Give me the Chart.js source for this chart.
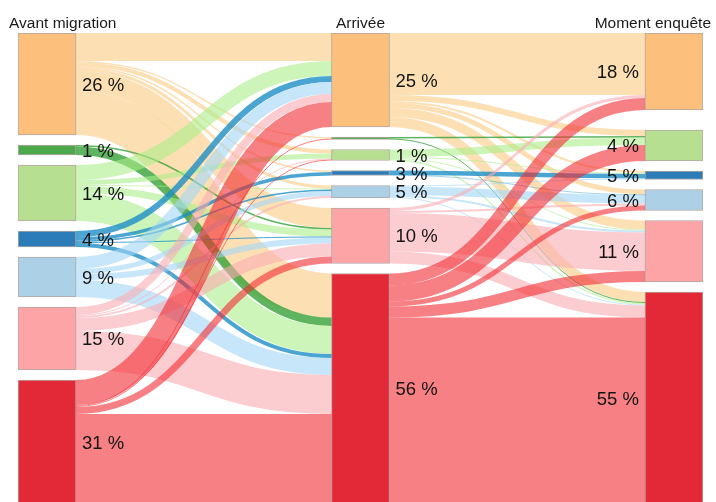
<!DOCTYPE html>
<html>
<head>
<meta charset="utf-8">
<script src="https://cdn.jsdelivr.net/npm/chart.js@4.4.1/dist/chart.umd.min.js"></script>
<style>
  html, body { margin: 0; padding: 0; background: #fff; }
  #wrap { width: 716px; height: 502px; }
</style>
</head>
<body>
<div id="wrap"><canvas id="sankey"></canvas></div>
<script>
// columns of the diagram
const stages = ['Avant migration', 'Arrivée', 'Moment enquête'];
// node groups, top to bottom in every column
const groups = ['orange', 'vert foncé', 'vert clair', 'bleu', 'bleu clair', 'rose', 'rouge'];

// percentage labels shown next to the nodes
const pctBefore = ['26 %', '1 %', '14 %', '4 %', '9 %', '15 %', '31 %'];
const pctArrival = ['25 %', '', '1 %', '3 %', '5 %', '10 %', '56 %'];
const pctSurvey = ['18 %', '', '4 %', '5 %', '6 %', '11 %', '55 %'];

// flows: rows = source group, columns = target group
const flowsBeforeToArrival = [
  [28, 1.5, 4, 1.5, 3, 20, 44],
  [0, 0, 0, 0, 0, 1.5, 8.5],
  [15, 0, 5, 0, 1, 7, 28],
  [6, 0, 0, 3.5, 1.5, 1, 4],
  [12, 0, 0, 0, 5, 6, 17],
  [8, 0, 1, 0, 2, 13, 39],
  [25, 1, 1, 0, 0, 7, 90]
];
const flowsArrivalToSurvey = [
  [62, 0, 6, 2, 5, 9, 10],
  [0, 0, 1.5, 0, 0, 0, 1],
  [0, 0, 7.5, 1, 0, 1, 1.5],
  [0, 0, 0, 4.5, 0.5, 0, 0],
  [0, 0, 0, 1, 8.5, 2, 1],
  [3, 0, 0, 0, 2, 38.5, 12],
  [12, 0, 16, 0, 5, 11, 186.5]
];

const nodeColors = ['#fcc07c', '#4ca94b', '#b7df92', '#2b7cb9', '#acd0e6', '#fca4a6', '#e32838'];
const linkColors = [
  'rgba(250,203,130,0.6)', 'rgba(55,161,55,0.8)', 'rgba(172,238,138,0.6)',
  'rgba(30,142,199,0.8)', 'rgba(163,213,247,0.6)', 'rgba(250,172,177,0.6)',
  'rgba(242,43,50,0.6)'
];

const GAP = 10;
const NODE_W = 58;
const PLOT_W = 716 - 18 - 13;

const sum = a => a.reduce((s, v) => s + v, 0);
const colSum = (m, j) => sum(m.map(r => r[j]));

const colVals = [
  groups.map((_, i) => sum(flowsBeforeToArrival[i])),
  groups.map((_, j) => Math.max(colSum(flowsBeforeToArrival, j), sum(flowsArrivalToSurvey[j]))),
  groups.map((_, j) => colSum(flowsArrivalToSurvey, j))
];
const colY0 = colVals.map(vals => {
  let acc = 0;
  return vals.map(v => { const y0 = acc; acc += v + GAP; return y0; });
});

const links = [];
[flowsBeforeToArrival, flowsArrivalToSurvey].forEach((m, s) => {
  const outOff = colY0[s].slice();
  const inOff = colY0[s + 1].slice();
  m.forEach((row, i) => row.forEach((v, j) => {
    if (!v) return;
    links.push({s, i, j, v, y0: outOff[i], y1: inOff[j]});
    outOff[i] += v;
    inOff[j] += v;
  }));
});

const datasets = groups.map((g, k) => ({
  label: g,
  data: colVals.map((vals, c) => vals[k] > 0 ? {x: c, y: [colY0[c][k], colY0[c][k] + vals[k]]} : null)
    .filter(Boolean),
  backgroundColor: nodeColors[k],
  borderColor: 'rgba(90,60,55,0.45)',
  borderWidth: 1,
  borderSkipped: false,
  barThickness: NODE_W,
  grouped: false
}));

const sankeyLinks = {
  id: 'sankeyLinks',
  beforeDatasetsDraw(chart) {
    const {ctx, scales: {x, y}} = chart;
    ctx.save();
    ctx.lineCap = 'butt';
    links.forEach(l => {
      const xa = x.getPixelForValue(l.s) + NODE_W / 2;
      const xb = x.getPixelForValue(l.s + 1) - NODE_W / 2;
      const xm = (xa + xb) / 2;
      const ya = y.getPixelForValue(l.y0 + l.v / 2);
      const yb = y.getPixelForValue(l.y1 + l.v / 2);
      const w = Math.abs(y.getPixelForValue(l.v) - y.getPixelForValue(0));
      ctx.beginPath();
      ctx.moveTo(xa, ya);
      ctx.bezierCurveTo(xm, ya, xm, yb, xb, yb);
      ctx.strokeStyle = linkColors[l.i];
      ctx.lineWidth = w;
      ctx.stroke();
    });
    ctx.restore();
  },
  afterDatasetsDraw(chart) {
    const {ctx, scales: {x, y}} = chart;
    const labels = [pctBefore, pctArrival, pctSurvey];
    ctx.save();
    ctx.fillStyle = '#141414';
    ctx.font = '18.5px "Liberation Sans", Arial, Helvetica, sans-serif';
    ctx.textBaseline = 'alphabetic';
    labels.forEach((col, c) => {
      col.forEach((txt, k) => {
        if (!txt) return;
        const yc = y.getPixelForValue(colY0[c][k] + colVals[c][k] / 2) + 6.6;
        if (c < 2) {
          ctx.textAlign = 'left';
          ctx.fillText(txt, x.getPixelForValue(c) + NODE_W / 2 + 6, yc);
        } else {
          ctx.textAlign = 'right';
          ctx.fillText(txt, x.getPixelForValue(c) - NODE_W / 2 - 6, yc);
        }
      });
    });
    ctx.font = '15.5px "Liberation Sans", Arial, Helvetica, sans-serif';
    ctx.fillStyle = '#1a1a1a';
    ctx.textAlign = 'left';
    stages.forEach((t, c) => {
      const w = ctx.measureText(t).width;
      let left = x.getPixelForValue(c) - w / 2;
      left = Math.max(9, Math.min(chart.width - 5 - w, left));
      ctx.fillText(t, left, 27.5);
    });
    ctx.restore();
  }
};

const span = 2 * (NODE_W / 2) / (PLOT_W - NODE_W);

new Chart(document.getElementById('sankey'), {
  type: 'bar',
  data: {datasets},
  options: {
    responsive: true,
    maintainAspectRatio: false,
    animation: false,
    events: [],
    layout: {padding: {left: 18, right: 13, top: 33, bottom: 0}},
    scales: {
      x: {type: 'linear', min: -span, max: 2 + span, offset: false, display: false},
      y: {type: 'linear', min: 0, max: 469, reverse: true, display: false}
    },
    plugins: {
      legend: {display: false},
      tooltip: {enabled: false}
    }
  },
  plugins: [sankeyLinks]
});
</script>
</body>
</html>
